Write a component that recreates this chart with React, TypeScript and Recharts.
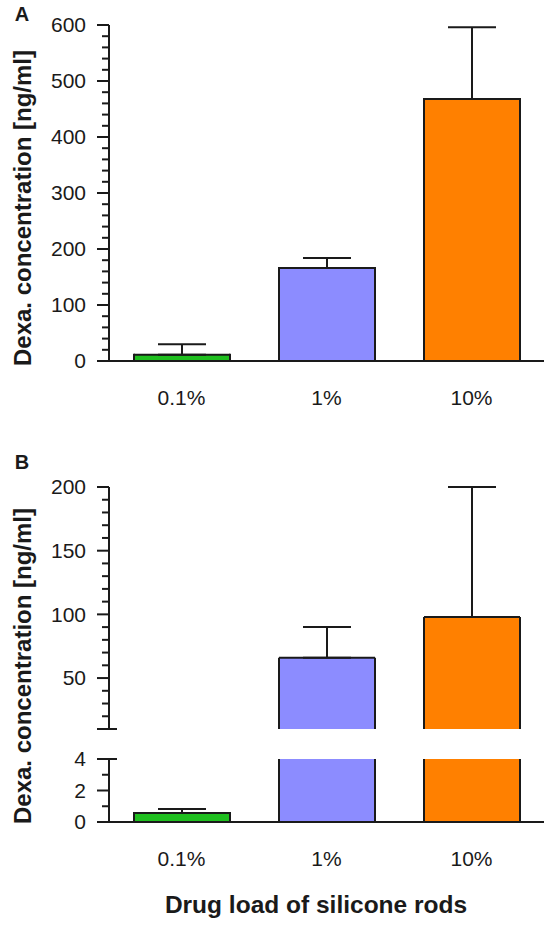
import { BarChart, Bar, XAxis, YAxis, ErrorBar, Cell, Customized } from "recharts";

const categories = ["0.1%", "1%", "10%"];
const barColors = ["#1fbf1f", "#8c8cff", "#ff8000"];

// panel A: plain axis
const meansA = [11, 166, 468];
const errorsA = [19, 18, 128];
const majorTicksA = [0, 100, 200, 300, 400, 500, 600];

// panel B: broken axis, 0-4 below the break, 10-200 above
const meansB = [0.57, 66, 98];
const errorsB = [0.26, 24, 102];
const majorTicksBHigh = [50, 100, 150, 200];
const majorTicksBLow = [0, 2, 4];
const breakLow = 4;
const breakHigh = 10;

const yTitle = "Dexa. concentration [ng/ml]";
const xTitle = "Drug load of silicone rods";

const INK = "#1a1a1a";
const FONT = "'Liberation Sans', Arial, Helvetica, sans-serif";

const stepTicks = (from: number, to: number, step: number) => {
  const out: number[] = [];
  for (let v = from; v <= to + 1e-9; v += step) out.push(+v.toFixed(4));
  return out;
};

const rowsA = categories.map((name, i) => ({ name, value: meansA[i], err: [0, errorsA[i]] }));
const rowsBHigh = categories.map((name, i) =>
  meansB[i] >= breakHigh
    ? { name, value: meansB[i], err: [0, errorsB[i]] }
    : { name, value: null, err: null }
);
const rowsBLow = categories.map((name, i) => ({
  name,
  value: meansB[i],
  err: meansB[i] + errorsB[i] <= breakLow ? [0, errorsB[i]] : null,
}));

function OpenBar(props: any) {
  const { x, y, width, height, fill, background, cutBottom } = props;
  if (x == null || y == null || !isFinite(height)) return null;
  let top = y;
  const bottom = y + height;
  let cutTop = false;
  if (background && top < background.y) {
    top = background.y;
    cutTop = true;
  }
  const right = x + width;
  const cap = cutTop || cutBottom ? "butt" : "square";
  return (
    <g>
      <rect x={x} y={top} width={width} height={bottom - top} fill={fill} />
      <line x1={x} x2={x} y1={top} y2={bottom} stroke={INK} strokeWidth={2} strokeLinecap={cap} />
      <line x1={right} x2={right} y1={top} y2={bottom} stroke={INK} strokeWidth={2} strokeLinecap={cap} />
      {!cutTop && <line x1={x} x2={right} y1={top} y2={top} stroke={INK} strokeWidth={2} />}
      {!cutBottom && <line x1={x} x2={right} y1={bottom} y2={bottom} stroke={INK} strokeWidth={2} />}
    </g>
  );
}

function makeYTick(majors: number[], breaks: number[]) {
  return (props: any) => {
    const { x, y, payload } = props;
    const v = payload.value;
    const major = majors.includes(v);
    const brk = breaks.includes(v);
    const left = major || brk ? 12 : 7;
    const right = brk ? 8 : 0;
    return (
      <g>
        <line x1={x - left} x2={x + right} y1={y} y2={y} stroke={INK} strokeWidth={2} />
        {major && (
          <text x={x - 23} y={y} dy="0.35em" textAnchor="end" fontSize={21} fontFamily={FONT} fill={INK}>
            {v}
          </text>
        )}
      </g>
    );
  };
}

function XTick(props: any) {
  const { x, y, payload } = props;
  return (
    <text x={x} y={y + 44} textAnchor="middle" fontSize={21} fontFamily={FONT} fill={INK}>
      {payload.value}
    </text>
  );
}

function PanelText({ letter, letterY, labelY, title }: { letter: string; letterY: number; labelY: number; title?: boolean }) {
  return (
    <g fontFamily={FONT} fill={INK} fontWeight="bold">
      <text x={22} y={letterY} textAnchor="middle" fontSize={20}>
        {letter}
      </text>
      <text x={22} y={labelY} textAnchor="middle" dominantBaseline="central" fontSize={24} transform={`rotate(-90 22 ${labelY})`}>
        {yTitle}
      </text>
      {title && (
        <text x={316} y={473} textAnchor="middle" fontSize={24.5}>
          {xTitle}
        </text>
      )}
    </g>
  );
}

function Bars({ cutBottom }: { cutBottom?: boolean }) {
  return (
    <Bar
      dataKey="value"
      barSize={96}
      isAnimationActive={false}
      shape={(p: any) => <OpenBar {...p} cutBottom={cutBottom} />}
    >
      {categories.map((c, i) => (
        <Cell key={c} fill={barColors[i]} />
      ))}
      <ErrorBar dataKey="err" width={24} strokeWidth={2} stroke={INK} direction="y" />
    </Bar>
  );
}

export default function App() {
  const axisLine = { stroke: INK, strokeWidth: 2 };
  return (
    <div style={{ position: "absolute", left: 0, top: 0, width: 551, height: 927, background: "#fff" }}>
      <div style={{ position: "absolute", left: 0, top: 0 }}>
        <BarChart width={551} height={420} data={rowsA} margin={{ top: 25, right: 7, left: 49, bottom: 19 }}>
          <XAxis dataKey="name" height={40} axisLine={axisLine} tickLine={false} tickSize={0} tickMargin={0} tick={XTick} interval={0} />
          <YAxis
            width={60}
            domain={[0, 600]}
            ticks={stepTicks(0, 600, 20)}
            interval={0}
            axisLine={axisLine}
            tickLine={false}
            tickSize={0}
            tickMargin={0}
            tick={makeYTick(majorTicksA, [])}
          />
          {Bars({})}
          <Customized component={() => <PanelText letter="A" letterY={21} labelY={208} />} />
        </BarChart>
      </div>

      <div style={{ position: "absolute", left: 0, top: 440 }}>
        <BarChart width={551} height={300} data={rowsBHigh} margin={{ top: 47, right: 7, left: 49, bottom: 11 }}>
          <XAxis dataKey="name" hide />
          <YAxis
            width={60}
            domain={[breakHigh, 200]}
            allowDataOverflow
            ticks={stepTicks(breakHigh, 200, 10)}
            interval={0}
            axisLine={axisLine}
            tickLine={false}
            tickSize={0}
            tickMargin={0}
            tick={makeYTick(majorTicksBHigh, [breakHigh])}
          />
          {Bars({ cutBottom: true })}
        </BarChart>
      </div>

      <div style={{ position: "absolute", left: 0, top: 440 }}>
        <BarChart width={551} height={487} data={rowsBLow} margin={{ top: 319, right: 7, left: 49, bottom: 65 }}>
          <XAxis dataKey="name" height={40} axisLine={axisLine} tickLine={false} tickSize={0} tickMargin={0} tick={XTick} interval={0} />
          <YAxis
            width={60}
            domain={[0, breakLow]}
            allowDataOverflow
            ticks={stepTicks(0, breakLow, 1)}
            interval={0}
            axisLine={axisLine}
            tickLine={false}
            tickSize={0}
            tickMargin={0}
            tick={makeYTick(majorTicksBLow, [breakLow])}
          />
          {Bars({})}
          <Customized component={() => <PanelText letter="B" letterY={29} labelY={226} title />} />
        </BarChart>
      </div>
    </div>
  );
}
